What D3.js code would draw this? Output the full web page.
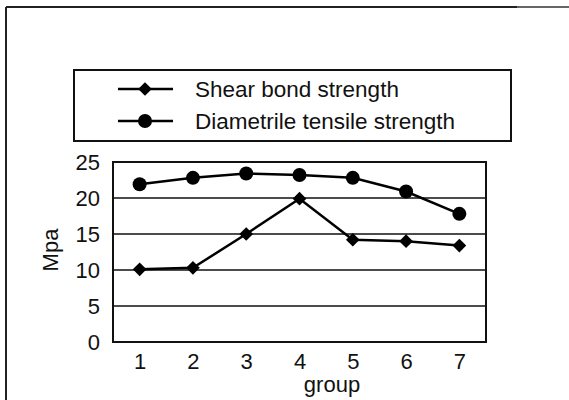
<!DOCTYPE html>
<html>
<head>
<meta charset="utf-8">
<script src="https://cdn.jsdelivr.net/npm/d3@7"></script>
<style>
  body { margin: 0; background: #fff; }
  text { font-family: "Liberation Sans", Arial, sans-serif; fill: #111; }
</style>
</head>
<body>
<div id="chart"></div>
<script>
var groups = ["1", "2", "3", "4", "5", "6", "7"];
var shearBond = [10.1, 10.3, 15.0, 19.9, 14.2, 14.0, 13.4];
var diametrile = [21.9, 22.8, 23.4, 23.2, 22.8, 20.9, 17.8];
var yTicks = [0, 5, 10, 15, 20, 25];
var seriesNames = ["Shear bond strength", "Diametrile tensile strength"];

var svgWidth = 569;
var svgHeight = 400;
var margin = { top: 162, right: 83, bottom: 58, left: 113 };
var width = svgWidth - margin.left - margin.right;
var height = svgHeight - margin.top - margin.bottom;

var svg = d3.select("#chart")
    .append("svg")
    .attr("width", svgWidth)
    .attr("height", svgHeight);

// outer frame (top and left edges only)
svg.append("line")
    .attr("x1", 6).attr("y1", 7).attr("x2", 517).attr("y2", 7)
    .attr("stroke", "#222").attr("stroke-width", 2);
svg.append("line")
    .attr("x1", 517).attr("y1", 7).attr("x2", 569).attr("y2", 7)
    .attr("stroke", "#666").attr("stroke-width", 2);
svg.append("line")
    .attr("x1", 6).attr("y1", 7).attr("x2", 6).attr("y2", 400)
    .attr("stroke", "#222").attr("stroke-width", 2);

var chartGroup = svg.append("g")
    .attr("transform", `translate(${margin.left}, ${margin.top})`);

// scales
var xScale = d3.scalePoint()
    .domain(groups)
    .range([0, width])
    .padding(0.5);

var yScale = d3.scaleLinear()
    .domain([0, 25])
    .range([height, 0]);

// gridlines
chartGroup.selectAll(".grid")
    .data(yTicks)
    .enter()
    .append("line")
    .attr("x1", 0)
    .attr("x2", width)
    .attr("y1", d => yScale(d))
    .attr("y2", d => yScale(d))
    .attr("stroke", "#111")
    .attr("stroke-width", 1.4);

// plot border
chartGroup.append("rect")
    .attr("x", 0).attr("y", 0)
    .attr("width", width).attr("height", height)
    .attr("fill", "none")
    .attr("stroke", "#111")
    .attr("stroke-width", 2);

// axes (labels only)
var leftAxis = d3.axisLeft(yScale).tickValues(yTicks).tickSize(0).tickPadding(13);
var bottomAxis = d3.axisBottom(xScale).tickSize(0).tickPadding(11);

var yAxisG = chartGroup.append("g").call(leftAxis);
var xAxisG = chartGroup.append("g")
    .attr("transform", `translate(0, ${height})`)
    .call(bottomAxis);

[yAxisG, xAxisG].forEach(function (g) {
    g.select(".domain").remove();
    g.selectAll("text")
        .attr("font-family", "Liberation Sans, Arial, sans-serif")
        .attr("font-size", "22px")
        .attr("fill", "#111");
});
yAxisG.selectAll("text").attr("dy", "0.36em");

// lines
var line = d3.line()
    .x((d, i) => xScale(groups[i]))
    .y(d => yScale(d));

chartGroup.append("path")
    .datum(shearBond)
    .attr("d", line)
    .attr("fill", "none")
    .attr("stroke", "#000")
    .attr("stroke-width", 2.5);

chartGroup.append("path")
    .datum(diametrile)
    .attr("d", line)
    .attr("fill", "none")
    .attr("stroke", "#000")
    .attr("stroke-width", 2.5);

var diamond = d3.symbol().type(d3.symbolDiamond2).size(120);

chartGroup.selectAll(".shear")
    .data(shearBond)
    .enter()
    .append("path")
    .attr("d", diamond)
    .attr("transform", (d, i) => `translate(${xScale(groups[i])}, ${yScale(d)})`)
    .attr("fill", "#000");

chartGroup.selectAll(".diam")
    .data(diametrile)
    .enter()
    .append("circle")
    .attr("cx", (d, i) => xScale(groups[i]))
    .attr("cy", d => yScale(d))
    .attr("r", 7)
    .attr("fill", "#000");

// axis titles
svg.append("text")
    .attr("transform", "translate(58, 250) rotate(-90)")
    .attr("text-anchor", "middle")
    .attr("font-size", "22px")
    .text("Mpa");

svg.append("text")
    .attr("x", 332)
    .attr("y", 392)
    .attr("text-anchor", "middle")
    .attr("font-size", "22px")
    .text("group");

// legend
var legend = svg.append("g");
legend.append("rect")
    .attr("x", 74).attr("y", 70)
    .attr("width", 437).attr("height", 71)
    .attr("fill", "#fff")
    .attr("stroke", "#111")
    .attr("stroke-width", 2);

var rows = [89, 121];
seriesNames.forEach(function (name, i) {
    var y = rows[i];
    legend.append("line")
        .attr("x1", 118).attr("x2", 173)
        .attr("y1", y).attr("y2", y)
        .attr("stroke", "#000").attr("stroke-width", 2.5);
    if (i === 0) {
        legend.append("path")
            .attr("d", diamond)
            .attr("transform", `translate(145, ${y})`)
            .attr("fill", "#000");
    } else {
        legend.append("circle")
            .attr("cx", 145).attr("cy", y).attr("r", 7)
            .attr("fill", "#000");
    }
    legend.append("text")
        .attr("x", 195)
        .attr("y", y + 8)
        .attr("font-size", "22.5px")
        .text(name);
});
</script>
</body>
</html>
